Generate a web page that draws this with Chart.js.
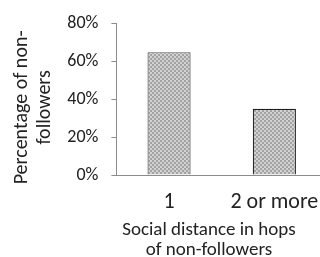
<!DOCTYPE html>
<html>
<head>
<meta charset="utf-8">
<script src="https://cdn.jsdelivr.net/npm/chart.js@4/dist/chart.umd.min.js"></script>
<style>
  html, body { margin: 0; padding: 0; background: #fff; overflow: hidden; }
  #wrap { width: 327px; height: 257px; }
</style>
</head>
<body>
<div id="wrap"><canvas id="barchart"></canvas></div>
<script>
const categories = ["1", "2 or more"];
const nonFollowerShare = [0.65, 0.35];
const yTicks = [0, 0.2, 0.4, 0.6, 0.8];
const yTitle = ["Percentage of non-", "followers"];
const xTitle = ["Social distance in hops", "of non-followers"];

const font = "Carlito, Calibri, sans-serif";
const textColor = "#222";
const axisColor = "#8c8c8c";

// small grey checker, like the dotted Excel fill
function makePattern() {
  const c = document.createElement("canvas");
  c.width = 4;
  c.height = 4;
  const p = c.getContext("2d");
  p.fillStyle = "#d2d2d2";
  p.fillRect(0, 0, 4, 4);
  p.fillStyle = "#a2a2a2";
  p.fillRect(0, 0, 2, 2);
  p.fillRect(2, 2, 2, 2);
  return p.createPattern(c, "repeat");
}

// axis titles sit off-centre in the original, so draw them by hand
const axisTitles = {
  id: "axisTitles",
  afterDraw(chart) {
    const { ctx, chartArea } = chart;
    ctx.save();
    ctx.fillStyle = textColor;
    ctx.textAlign = "center";
    ctx.textBaseline = "middle";

    ctx.font = "19px " + font;
    const xc = chartArea.left + 92.5;
    xTitle.forEach((t, i) => ctx.fillText(t, xc, chartArea.bottom + 55.3 + i * 20));

    ctx.font = "20px " + font;
    ctx.translate(21.7, (chartArea.top + chartArea.bottom) / 2 + 8);
    ctx.rotate(-Math.PI / 2);
    yTitle.forEach((t, i) => ctx.fillText(t, 0, i * 23.3));
    ctx.restore();
  },
};

const ctx_bar = document.getElementById("barchart").getContext("2d");

const barchart = new Chart(ctx_bar, {
  type: "bar",
  data: {
    labels: categories,
    datasets: [
      {
        data: nonFollowerShare,
        backgroundColor: makePattern(),
        borderColor: ["#5a5a5a", "#1e1e1e"],
        borderWidth: 1.2,
        barPercentage: 0.41,
        categoryPercentage: 1,
      },
    ],
  },
  options: {
    responsive: true,
    maintainAspectRatio: false,
    animation: false,
    layout: { padding: { top: 21.4, left: 54.3, right: 0, bottom: 35 } },
    plugins: {
      legend: false, // no legend in the original
      tooltip: { enabled: false },
    },
    scales: {
      x: {
        grid: { display: false },
        border: { color: axisColor, width: 1 },
        ticks: {
          color: textColor,
          font: { family: font, size: 22 },
          padding: 6.3,
        },
      },
      y: {
        min: 0,
        max: 0.8,
        afterBuildTicks: (axis) => {
          axis.ticks = yTicks.map((v) => ({ value: v }));
        },
        grid: {
          drawOnChartArea: false,
          drawTicks: true,
          tickLength: 5,
          color: axisColor,
        },
        border: { color: axisColor, width: 1 },
        ticks: {
          color: textColor,
          font: { family: font, size: 18 },
          padding: 13,
          callback: (v) => Math.round(v * 100) + "%",
        },
      },
    },
  },
  plugins: [axisTitles],
});
</script>
</body>
</html>
